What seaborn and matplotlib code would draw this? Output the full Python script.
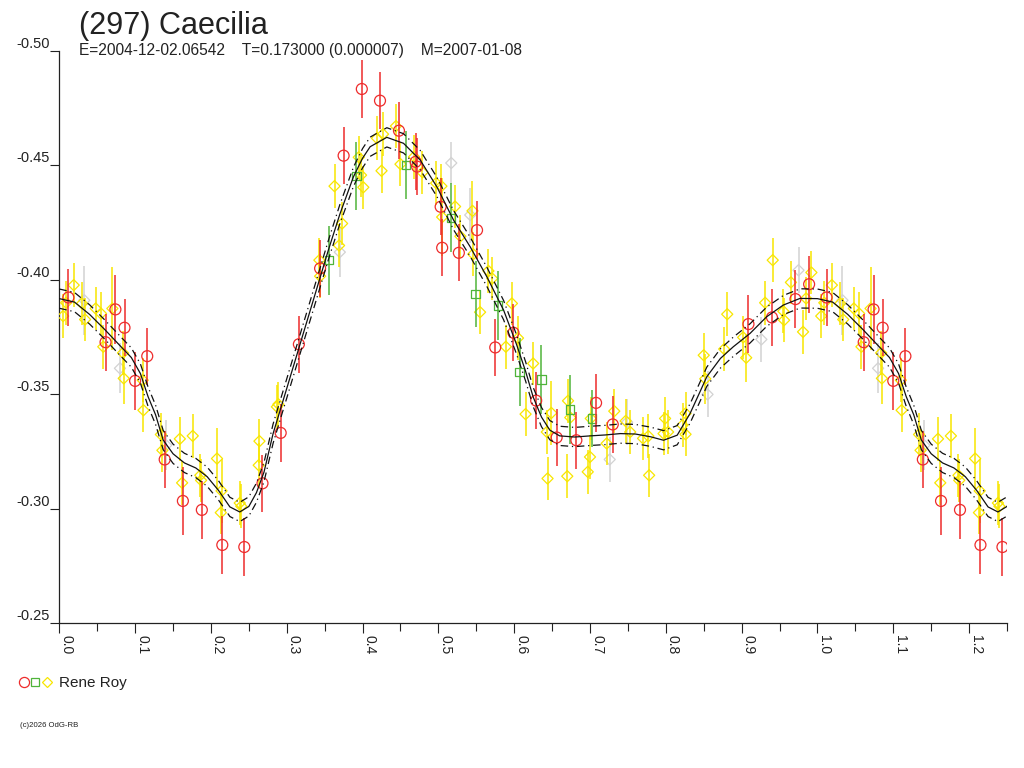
import numpy as np
import pandas as pd
import matplotlib
matplotlib.use("Agg")
import matplotlib.pyplot as plt
import seaborn as sns
from matplotlib.ticker import FixedLocator, MultipleLocator, FuncFormatter
from matplotlib.legend_handler import HandlerTuple
from matplotlib.lines import Line2D

# ---------------- data ----------------
title = "(297) Caecilia"
subtitle = "E=2004-12-02.06542    T=0.173000 (0.000007)    M=2007-01-08"
observer = "Rene Roy"
credit = "(c)2026 OdG-RB"

x_ticks = [0.0, 0.1, 0.2, 0.3, 0.4, 0.5, 0.6, 0.7, 0.8, 0.9, 1.0, 1.1, 1.2]
y_ticks = [-0.50, -0.45, -0.40, -0.35, -0.30, -0.25]

red_phase = [0.012, 0.061, 0.074, 0.086, 0.100, 0.116, 0.139, 0.163, 0.188, 0.215, 0.244, 0.268,
             0.292, 0.316, 0.344, 0.375, 0.399, 0.423, 0.448, 0.470, 0.472, 0.503, 0.505, 0.527,
             0.551, 0.575, 0.599, 0.629, 0.656, 0.682, 0.708, 0.730, 0.909, 0.940, 0.971, 0.989]
red_mag = [-0.3922, -0.3727, -0.3870, -0.3790, -0.3558, -0.3666, -0.3215, -0.3034, -0.2995, -0.2842,
           -0.2833, -0.3111, -0.3331, -0.3718, -0.4049, -0.4541, -0.4832, -0.4781, -0.4650, -0.4514,
           -0.4493, -0.4318, -0.4139, -0.4117, -0.4216, -0.3704, -0.3768, -0.3472, -0.3311, -0.3299,
           -0.3462, -0.3368, -0.3806, -0.3835, -0.3915, -0.3980]
red_err = [0.0125, 0.0125, 0.015, 0.0125, 0.0125, 0.0125, 0.0125, 0.015, 0.0125, 0.0125,
           0.0125, 0.0125, 0.0125, 0.0125, 0.0125, 0.0125, 0.0125, 0.0125, 0.0125, 0.0125,
           0.0125, 0.0125, 0.0125, 0.0125, 0.0125, 0.0125, 0.0125, 0.0125, 0.0125, 0.0125,
           0.0125, 0.0125, 0.0125, 0.0125, 0.0125, 0.0125]

green_phase = [0.356, 0.392, 0.457, 0.517, 0.549, 0.579, 0.607, 0.636, 0.674, 0.703]
green_mag = [-0.4085, -0.4452, -0.4500, -0.4270, -0.3938, -0.3887, -0.3597, -0.3564, -0.3433, -0.3394]
green_err = [0.015, 0.015, 0.015, 0.015, 0.0145, 0.015, 0.015, 0.015, 0.015, 0.0125]

yellow_phase = [0.005, 0.009, 0.019, 0.030, 0.034, 0.048, 0.055, 0.070, 0.058, 0.084,
                0.085, 0.110, 0.111, 0.134, 0.136, 0.159, 0.176, 0.162, 0.186, 0.187,
                0.208, 0.214, 0.213, 0.238, 0.240, 0.264, 0.263, 0.287, 0.289, 0.343,
                0.344, 0.363, 0.373, 0.369, 0.395, 0.398, 0.401, 0.419, 0.427, 0.425,
                0.444, 0.450, 0.468, 0.479, 0.497, 0.504, 0.505, 0.522, 0.529, 0.545,
                0.546, 0.566, 0.571, 0.555, 0.597, 0.605, 0.589, 0.625, 0.615, 0.649,
                0.643, 0.644, 0.671, 0.674, 0.670, 0.700, 0.697, 0.701, 0.722, 0.732,
                0.747, 0.753, 0.770, 0.777, 0.778, 0.799, 0.797, 0.803, 0.826, 0.826,
                0.822, 0.850, 0.852, 0.877, 0.881, 0.902, 0.906, 0.931, 0.941, 0.955,
                0.956, 0.965, 0.981, 0.985, 0.992]
yellow_mag = [-0.3841, -0.3899, -0.3976, -0.3896, -0.3826, -0.3874, -0.3852, -0.3874, -0.3707, -0.3680,
              -0.3569, -0.3561, -0.3430, -0.3324, -0.3255, -0.3305, -0.3318, -0.3113, -0.3146, -0.3124,
              -0.3219, -0.3078, -0.2983, -0.3025, -0.3011, -0.3295, -0.3190, -0.3445, -0.3456, -0.4085,
              -0.4015, -0.4408, -0.4245, -0.4149, -0.4534, -0.4456, -0.4403, -0.4617, -0.4635, -0.4475,
              -0.4670, -0.4504, -0.4536, -0.4468, -0.4421, -0.4408, -0.4273, -0.4319, -0.4189, -0.4300,
              -0.4111, -0.4038, -0.4005, -0.3858, -0.3896, -0.3745, -0.3707, -0.3634, -0.3413, -0.3418,
              -0.3335, -0.3132, -0.3471, -0.3398, -0.3142, -0.3226, -0.3161, -0.3394, -0.3285, -0.3426,
              -0.3383, -0.3335, -0.3307, -0.3317, -0.3146, -0.3394, -0.3328, -0.3335, -0.3416, -0.3325,
              -0.3365, -0.3670, -0.3567, -0.3697, -0.3849, -0.3748, -0.3659, -0.3899, -0.4085, -0.3862,
              -0.3823, -0.3988, -0.3772, -0.3918, -0.4031]
yellow_err = [0.0095, 0.0095, 0.0095, 0.0095, 0.0095, 0.0095, 0.0095, 0.018, 0.0095, 0.0095,
              0.011, 0.0095, 0.0095, 0.0095, 0.0095, 0.0095, 0.0095, 0.0095, 0.0095, 0.0095,
              0.0135, 0.014, 0.0095, 0.0095, 0.0095, 0.0095, 0.0095, 0.0095, 0.0095, 0.0095,
              0.0095, 0.0095, 0.0095, 0.0095, 0.0095, 0.0095, 0.0095, 0.0095, 0.0095, 0.0095,
              0.0095, 0.0095, 0.0095, 0.0095, 0.0095, 0.0095, 0.017, 0.0095, 0.0095, 0.013,
              0.0095, 0.0095, 0.0095, 0.0095, 0.0095, 0.0095, 0.0095, 0.0095, 0.0095, 0.014,
              0.0095, 0.0095, 0.0095, 0.0095, 0.0095, 0.0095, 0.0095, 0.0095, 0.0095, 0.0095,
              0.0095, 0.0095, 0.0095, 0.0095, 0.0095, 0.0095, 0.0095, 0.0095, 0.0095, 0.0095,
              0.0095, 0.0095, 0.011, 0.0095, 0.0095, 0.0095, 0.0105, 0.0095, 0.0095, 0.0095,
              0.0095, 0.0095, 0.0095, 0.0095, 0.0095]

gray_phase = [0.033, 0.080, 0.141, 0.370, 0.517, 0.542, 0.726, 0.749, 0.855, 0.926, 0.975]
gray_mag = [-0.3910, -0.3613, -0.3277, -0.4120, -0.4509, -0.4282, -0.3215, -0.3378, -0.3499, -0.3739, -0.4041]
gray_err = [0.015, 0.011, 0.011, 0.011, 0.009, 0.012, 0.010, 0.010, 0.010, 0.010, 0.010]

fit_phase = [0.000, 0.020, 0.040, 0.060, 0.080, 0.095, 0.107, 0.117, 0.127, 0.137,
             0.150, 0.165, 0.180, 0.195, 0.210, 0.225, 0.238, 0.250, 0.260, 0.270,
             0.282, 0.300, 0.320, 0.340, 0.355, 0.370, 0.388, 0.400, 0.410, 0.432,
             0.454, 0.476, 0.498, 0.520, 0.542, 0.564, 0.586, 0.603, 0.615, 0.625,
             0.636, 0.647, 0.660, 0.680, 0.700, 0.720, 0.740, 0.760, 0.780, 0.797,
             0.815, 0.832, 0.845, 0.854, 0.872, 0.889, 0.911, 0.933, 0.955, 0.977]
fit_mag = [-0.3917, -0.3902, -0.3848, -0.3782, -0.3712, -0.3660, -0.3590, -0.3490, -0.3410, -0.3300,
           -0.3240, -0.3200, -0.3178, -0.3140, -0.3080, -0.3008, -0.2986, -0.3010, -0.3070, -0.3160,
           -0.3328, -0.3525, -0.3745, -0.3965, -0.4130, -0.4285, -0.4449, -0.4530, -0.4580, -0.4621,
           -0.4595, -0.4522, -0.4405, -0.4260, -0.4143, -0.4012, -0.3867, -0.3718, -0.3600, -0.3488,
           -0.3400, -0.3343, -0.3318, -0.3313, -0.3318, -0.3322, -0.3328, -0.3326, -0.3314, -0.3299,
           -0.3321, -0.3416, -0.3510, -0.3576, -0.3656, -0.3707, -0.3765, -0.3838, -0.3889, -0.3918]
fit_band = 0.0042

# ---------------- styling ----------------
RED = "#ee2b2b"
GREEN = "#4fb43a"
YELLOW = "#f8e600"
GRAY = "#d2d2d2"
TXT = "#222222"

sns.set_theme(style="ticks")
plt.rcParams["font.family"] = ["Liberation Sans", "DejaVu Sans"]
plt.rcParams["axes.unicode_minus"] = False

W, H = 1024, 768
fig = plt.figure(figsize=(W / 100, H / 100), dpi=100)
fig.patch.set_facecolor("white")
ax = fig.add_axes([59.3 / W, 144.7 / H, (1007 - 59.3) / W, (623.3 - 50.5) / H])
ax.set_facecolor("white")


def make_df(ph, mg, er, name):
    df = pd.DataFrame({"phase": ph, "mag": mg, "err": er, "set": name})
    extra = df[df["phase"] < 0.25].copy()
    extra["phase"] = extra["phase"] + 1.0
    return pd.concat([df, extra], ignore_index=True)


sets = [
    (make_df(gray_phase, gray_mag, gray_err, "gray"), GRAY, "D", 32, 0.9),
    (make_df(yellow_phase, yellow_mag, yellow_err, "yellow"), YELLOW, "D", 32, 0.9),
    (make_df(green_phase, green_mag, green_err, "green"), GREEN, "s", 34, 0.9),
    (make_df(red_phase, red_mag, red_err, "red"), RED, "o", 62, 0.9),
]

z = 2
for df, col, mk, size, lw in sets:
    ax.errorbar(df["phase"], df["mag"], yerr=df["err"], fmt="none", ecolor=col,
                elinewidth=1.1, capsize=0, zorder=z)
    sns.scatterplot(data=df, x="phase", y="mag", ax=ax, marker=mk, s=size,
                    color=col, facecolor="none", edgecolor=col, linewidth=lw,
                    zorder=z + 0.5, legend=False)
    z += 1

fit_df = pd.DataFrame({"phase": fit_phase, "mag": fit_mag})
fit_extra = fit_df[fit_df["phase"] <= 0.26].copy()
fit_extra["phase"] = fit_extra["phase"] + 1.0
fit_df = pd.concat([fit_df, fit_extra], ignore_index=True)
fit_df["upper"] = fit_df["mag"] - fit_band
fit_df["lower"] = fit_df["mag"] + fit_band

sns.lineplot(data=fit_df, x="phase", y="mag", ax=ax, color="#111111", lw=0.9,
             estimator=None, sort=True, zorder=10)
for col in ["upper", "lower"]:
    sns.lineplot(data=fit_df, x="phase", y=col, ax=ax, color="#111111", lw=0.9,
                 estimator=None, sort=True, zorder=10, linestyle=(0, (6, 3, 1, 3)))

# ---------------- axes ----------------
ax.set_xlim(0, 1.25)
ax.set_ylim(-0.25, -0.50)
ax.set_xlabel("")
ax.set_ylabel("")
for s in ["top", "right"]:
    ax.spines[s].set_visible(False)
for s in ["left", "bottom"]:
    ax.spines[s].set_linewidth(0.9)
    ax.spines[s].set_color(TXT)

ax.xaxis.set_major_locator(FixedLocator(x_ticks))
ax.xaxis.set_minor_locator(MultipleLocator(0.05))
ax.xaxis.set_major_formatter(FuncFormatter(lambda v, p: f"{v:.1f}"))
ax.yaxis.set_major_locator(FixedLocator(y_ticks))
ax.yaxis.set_major_formatter(FuncFormatter(lambda v, p: f"{v:.2f}"))

ax.tick_params(axis="x", which="major", length=7.2, width=0.8, direction="out",
               pad=1.0, labelsize=10, color=TXT, labelcolor=TXT, labelrotation=-90)
ax.tick_params(axis="x", which="minor", length=5.4, width=0.8, direction="out", color=TXT)
ax.tick_params(axis="y", which="major", length=6.5, width=0.8, direction="out",
               pad=0.5, labelsize=10.5, color=TXT, labelcolor=TXT)
for lbl in ax.get_xticklabels():
    lbl.set_ha("left")
    lbl.set_va("top")
for lbl in ax.get_yticklabels():
    lbl.set_va("bottom")
    lbl.set_ha("right")

# ---------------- texts ----------------
t_title = fig.text(79 / W, 1 - 33.7 / H, title, fontsize=21, color=TXT, ha="left", va="baseline")
t_sub = fig.text(79 / W, 1 - 55.5 / H, subtitle, fontsize=10, color=TXT, ha="left", va="baseline")
t_credit = fig.text(20 / W, 1 - 725.7 / H, credit, fontsize=5.5, color=TXT, ha="left",
                    va="center")

fig.canvas.draw()
r = fig.canvas.get_renderer()
for t, target in [(t_title, 189), (t_sub, 445), (t_credit, 58)]:
    w = t.get_window_extent(r).width
    t.set_fontsize(t.get_fontsize() * target / w)

# ---------------- legend ----------------
h_c = Line2D([], [], ls="none", marker="o", ms=7.3, mfc="none", mec=RED, mew=0.9)
h_s = Line2D([], [], ls="none", marker="s", ms=5.6, mfc="none", mec=GREEN, mew=0.9)
h_d = Line2D([], [], ls="none", marker="D", ms=4.8, mfc="none", mec=YELLOW, mew=0.9)
fig.legend(handles=[(h_c, h_s, h_d)], labels=[observer],
           handler_map={tuple: HandlerTuple(ndivide=None, pad=0.0)},
           loc="center left", bbox_to_anchor=(18.0 / W, 1 - 683.5 / H),
           frameon=False, fontsize=11, labelcolor=TXT, handlelength=2.26,
           handletextpad=0.4, borderpad=0, borderaxespad=0)

fig.savefig("out.png", dpi=100, facecolor="white")
